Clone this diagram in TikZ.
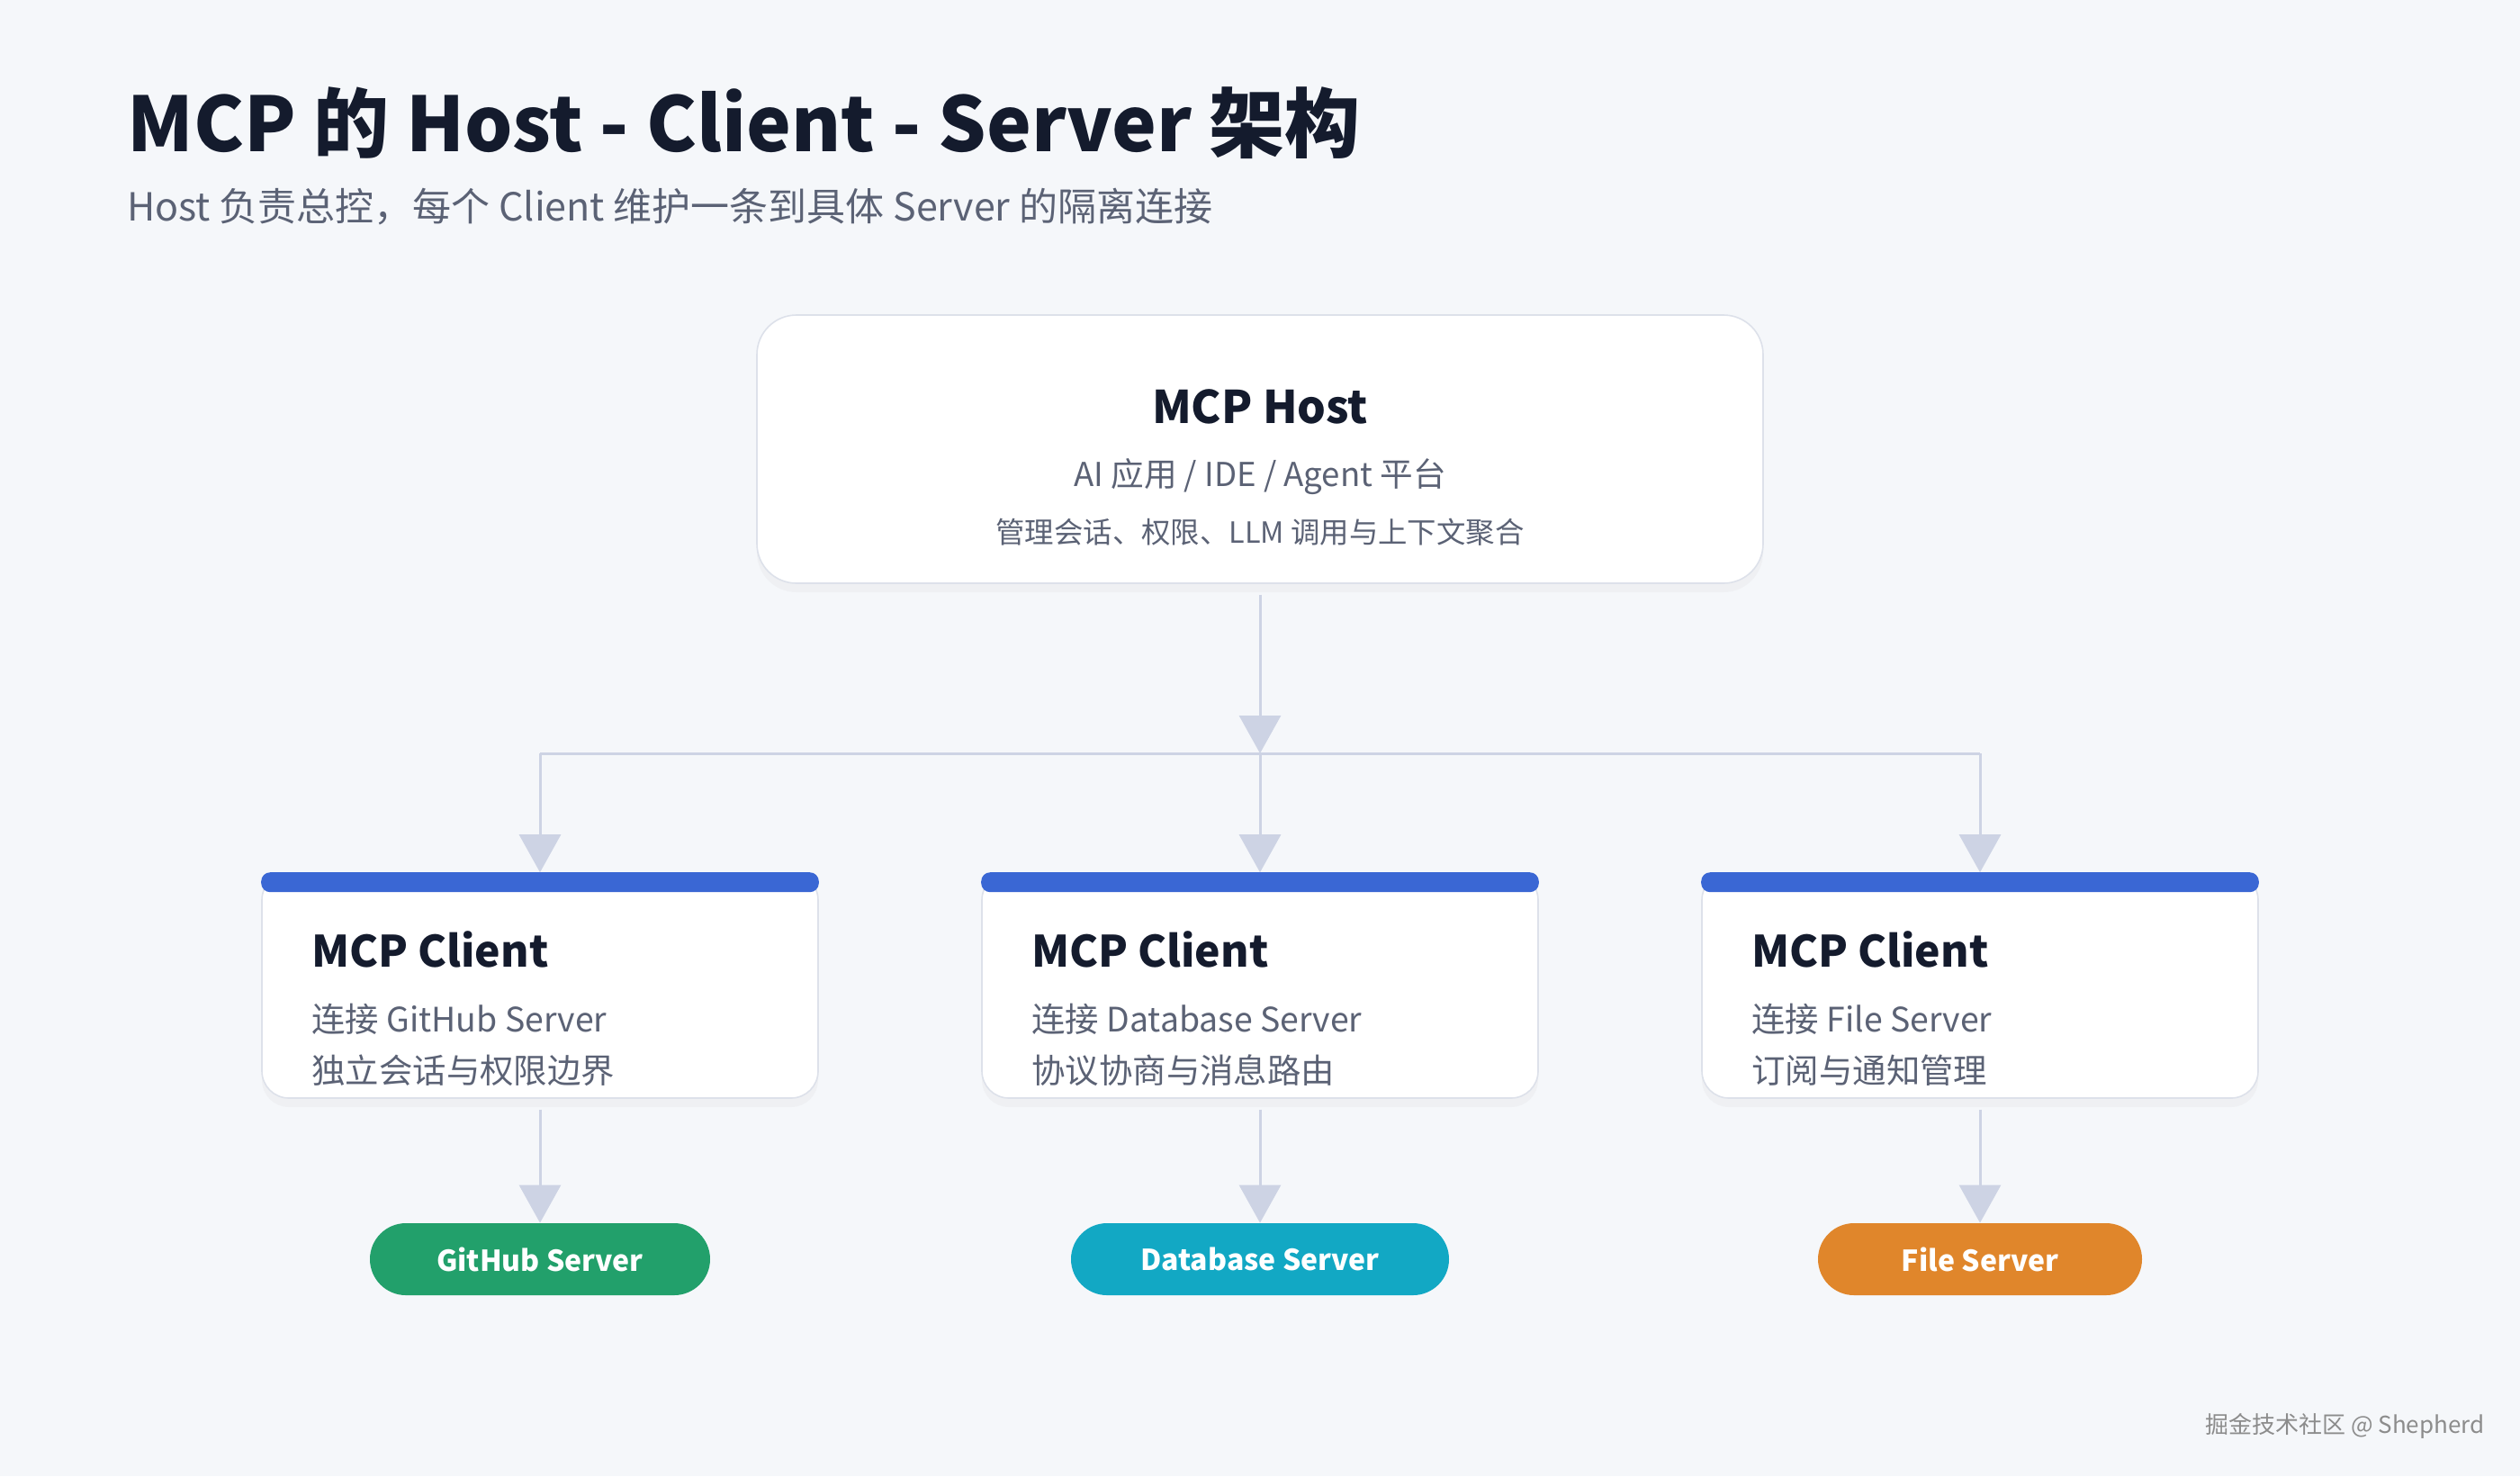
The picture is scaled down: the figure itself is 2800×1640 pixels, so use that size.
\documentclass[tikz,border=0pt]{standalone}
\usepackage{fontspec}
\setmainfont{Noto Sans CJK SC}
\usetikzlibrary{arrows.meta,shadows}
\definecolor{bgpage}{HTML}{F5F7FA}
\definecolor{inkdark}{HTML}{141B2D}
\definecolor{inkgray}{HTML}{5B6275}
\definecolor{edgegray}{HTML}{DDE1EA}
\definecolor{linkblue}{HTML}{CDD3E4}
\definecolor{barblue}{HTML}{3A67D4}
\definecolor{srvgreen}{HTML}{22A06B}
\definecolor{srvteal}{HTML}{12A8C4}
\definecolor{srvorange}{HTML}{E0862B}
\tikzset{
  hostbox/.style={
    rectangle, rounded corners=22pt, draw=edgegray, line width=0.8pt,
    fill=white, minimum width=559pt, minimum height=149pt,
    drop shadow={opacity=0.05, shadow xshift=0pt, shadow yshift=-5pt}
  },
  clientbox/.style={
    rectangle, rounded corners=15pt, draw=edgegray, line width=0.8pt,
    fill=white, minimum width=309pt, minimum height=125pt,
    drop shadow={opacity=0.05, shadow xshift=0pt, shadow yshift=-5pt}
  },
  serverpill/.style={
    rectangle, rounded corners=20pt, minimum height=40pt,
    text=white, font=\bfseries\fontsize{16}{18}\selectfont
  },
  link/.style={
    draw=linkblue, line width=1.5pt,
    -{Triangle[width=23pt,length=21pt]}
  }
}
\begin{document}
\begin{tikzpicture}[x=0.5pt, y=-0.5pt]
  \fill[bgpage] (0,0) rectangle (2800,1640);
  \useasboundingbox (0,0) rectangle (2800,1640);
  %
  % ==================================================================
  % Title and subtitle
  % ==================================================================
  \node[anchor=base west, inner sep=0pt, text=inkdark,
        font=\bfseries\fontsize{42}{46}\selectfont] (title) at (141,168)
    {MCP 的 Host - Client - Server 架构};
  \node[anchor=base west, inner sep=0pt, text=inkgray,
        font=\fontsize{21.5}{25}\selectfont] (subtitle) at (141,245)
    {Host 负责总控，每个 Client 维护一条到具体 Server 的隔离连接};
  %
  % ==================================================================
  % Host
  % ==================================================================
  \node[hostbox] (host) at (1400,499) {};
  \node[text=inkdark, font=\bfseries\fontsize{25}{28}\selectfont] (hosttitle) at (1400,452) {MCP Host};
  \node[text=inkgray, font=\fontsize{18.3}{22}\selectfont] (hostrole) at (1400,530) {AI 应用 / IDE / Agent 平台};
  \node[text=inkgray, font=\fontsize{16.2}{20}\selectfont] (hostduty) at (1400,591) {管理会话、权限、LLM 调用与上下文聚合};
  %
  % ==================================================================
  % Clients (white card, blue bar on top)
  % ==================================================================
  \foreach \cx/\cname/\ctarget/\cnote in {
      600/cgit/GitHub/独立会话与权限边界,
      1400/cdb/Database/协议协商与消息路由,
      2200/cfile/File/订阅与通知管理}{
    \node[clientbox] (\cname) at (\cx,1095) {};
    \fill[barblue, rounded corners=5pt] (\cname.north west) rectangle ([yshift=-11pt]\cname.north east);
    \node[anchor=west, inner sep=0pt, text=inkdark,
          font=\bfseries\fontsize{24}{28}\selectfont] (\cname-title) at (\cx-254,1055) {MCP Client};
    \node[anchor=west, inner sep=0pt, text=inkgray,
          font=\fontsize{18.7}{22}\selectfont] (\cname-link) at (\cx-254,1132) {连接 \ctarget\ Server};
    \node[anchor=west, inner sep=0pt, text=inkgray,
          font=\fontsize{18.7}{22}\selectfont] (\cname-note) at (\cx-254,1189) {\cnote};
  }
  %
  % ==================================================================
  % Servers
  % ==================================================================
  \node[serverpill, fill=srvgreen, minimum width=189pt] (sgit) at (600,1399) {GitHub Server};
  \node[serverpill, fill=srvteal, minimum width=210pt] (sdb) at (1400,1399) {Database Server};
  \node[serverpill, fill=srvorange, minimum width=180pt] (sfile) at (2200,1399) {File Server};
  %
  % ==================================================================
  % Connectors
  % ==================================================================
  \coordinate (bus) at (1400,837);
  \coordinate (busleft) at (600,837);
  \coordinate (busright) at (2200,837);
  \draw[draw=linkblue, line width=1.5pt] (busleft) -- (busright);
  \draw[link] ([yshift=-6pt]host.south) -- (bus);
  \draw[link] (bus) -- (cdb.north);
  \draw[link] (busleft) -- (cgit.north);
  \draw[link] (busright) -- (cfile.north);
  \draw[link] ([yshift=-6pt]cgit.south) -- (sgit.north);
  \draw[link] ([yshift=-6pt]cdb.south) -- (sdb.north);
  \draw[link] ([yshift=-6pt]cfile.south) -- (sfile.north);
  %
  \node[anchor=base east, inner sep=0pt, text=black!45,
        font=\fontsize{13}{15}\selectfont] (mark) at (2761,1592) {掘金技术社区 @ Shepherd};
\end{tikzpicture}
\end{document}
